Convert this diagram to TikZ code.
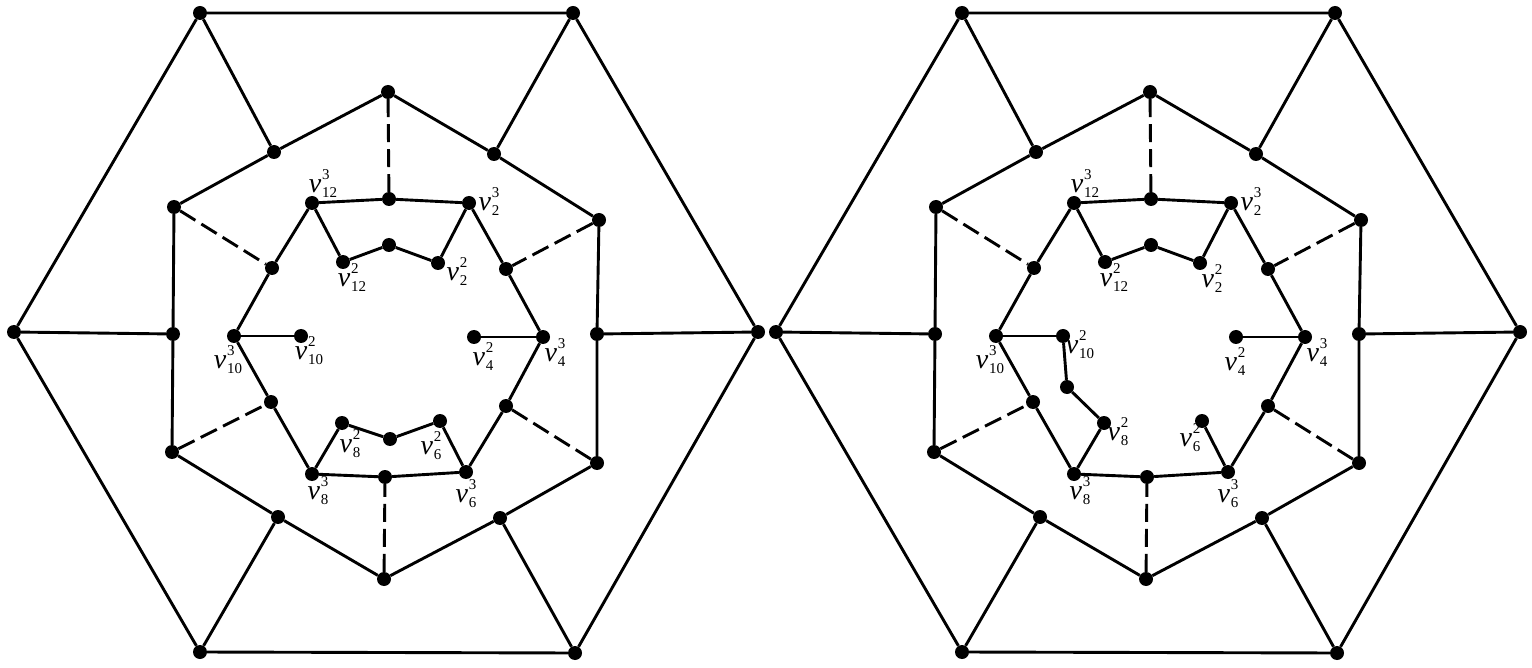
\documentclass[tikz,border=0pt]{standalone}
\usepackage{fontspec}
\setmainfont{Liberation Serif}
\newcommand{\idxfont}{\fontsize{15}{15}\selectfont}
\newcommand{\vlab}[2]{\textit{v}\kern1pt\rlap{\raisebox{13pt}{\idxfont #1}}\raisebox{-5pt}{\idxfont #2}}

\begin{document}
\begin{tikzpicture}[x=1pt, y=-1pt,
dot/.style={circle, fill=black, inner sep=0pt, minimum size=14pt},
edge/.style={line width=2.9pt},
dashedge/.style={line width=2.9pt, dash pattern=on 18pt off 7pt},
lbl/.style={inner sep=0pt, font=\fontsize{28}{30}\selectfont}
]
\useasboundingbox (0,0) rectangle (1532,668);

% what both graphs share
\foreach \g/\dx in {L/0, R/762} {
\begin{scope}[xshift=\dx pt, name prefix=\g-]
% outer hexagon
\foreach \n/\p in {h1/{200,13}, h2/{573,13}, h3/{758,332}, h4/{575,653}, h5/{200,652}, h6/{14,332}}
  \node[dot] (\n) at (\p) {};
% middle ring
\foreach \n/\p in {m1/{388,92}, m2/{494,154}, m3/{599,220}, m4/{597,334}, m5/{597,463}, m6/{500,518},
  m7/{384,579}, m8/{278,517}, m9/{172,452}, m10/{173,334}, m11/{174,207}, m12/{274,152}}
  \node[dot] (\n) at (\p) {};
% inner ring
\foreach \n/\p in {n1/{312,203}, n2/{389,199}, n3/{469,203}, n4/{506,269}, n5/{543,337}, n6/{506,406},
  n7/{466,472}, n8/{385,477}, n9/{312,474}, n10/{271,402}, n11/{234,336}, n12/{272,268}}
  \node[dot] (\n) at (\p) {};
% pendant part
\foreach \n/\p in {a/{343,262}, b/{389,245}, c/{438,263}, d/{301,336}, e/{474,337}, f/{342,423}, k/{440,421}}
  \node[dot] (\n) at (\p) {};

\draw[edge] (h1) -- (h2) -- (h3) -- (h4) -- (h5) -- (h6) -- (h1);
\draw[edge] (m1) -- (m2) -- (m3) -- (m4) -- (m5) -- (m6) -- (m7) -- (m8) -- (m9) -- (m10) -- (m11) -- (m12) -- (m1);
\draw[edge] (n1) -- (n2) -- (n3) -- (n4) -- (n5) -- (n6) -- (n7) -- (n8) -- (n9) -- (n10) -- (n11) -- (n12) -- (n1);
\foreach \s/\t in {h1/m12, h2/m2, h3/m4, h4/m6, h5/m8, h6/m10}
  \draw[edge] (\s) -- (\t);
\foreach \s/\t in {m1/n2, m3/n4, m5/n6, m7/n8, m9/n10, m11/n12}
  \draw[dashedge] (\s) -- (\t);
\draw[edge] (n1) -- (a) -- (b) -- (c) -- (n3);
\draw[edge] (n11) -- (d);
\draw[edge] (e) -- (n5);
\draw[edge] (f) -- (n9);
\draw[edge] (k) -- (n7);

\node[lbl] (t12) at (323,184) {\vlab{3}{12}};
\node[lbl] (t2) at (489,202) {\vlab{3}{2}};
\node[lbl] (t10) at (228,360) {\vlab{3}{10}};
\node[lbl] (t4) at (555,353) {\vlab{3}{4}};
\node[lbl] (t8) at (318,491) {\vlab{3}{8}};
\node[lbl] (t6) at (466,494) {\vlab{3}{6}};
\node[lbl] (s12) at (352,278) {\vlab{2}{12}};
\end{scope}
}

% left graph
\begin{scope}[name prefix=L-]
\node[dot] (g) at (390,439) {};
\draw[edge] (f) -- (g) -- (k);
\node[lbl] (s2) at (457,272) {\vlab{2}{2}};
\node[lbl] (s10) at (309,351) {\vlab{2}{10}};
\node[lbl] (s4) at (483,357) {\vlab{2}{4}};
\node[lbl] (s8) at (350,444) {\vlab{2}{8}};
\node[lbl] (s6) at (431,446) {\vlab{2}{6}};
\end{scope}

% right graph
\begin{scope}[xshift=762pt, name prefix=R-]
\node[dot] (p) at (305,387) {};
\draw[edge] (d) -- (p) -- (f);
\node[lbl] (s2) at (450,279) {\vlab{2}{2}};
\node[lbl] (s10) at (318,345) {\vlab{2}{10}};
\node[lbl] (s4) at (473,362) {\vlab{2}{4}};
\node[lbl] (s8) at (356,432) {\vlab{2}{8}};
\node[lbl] (s6) at (428,438) {\vlab{2}{6}};
\end{scope}

\end{tikzpicture}
\end{document}
